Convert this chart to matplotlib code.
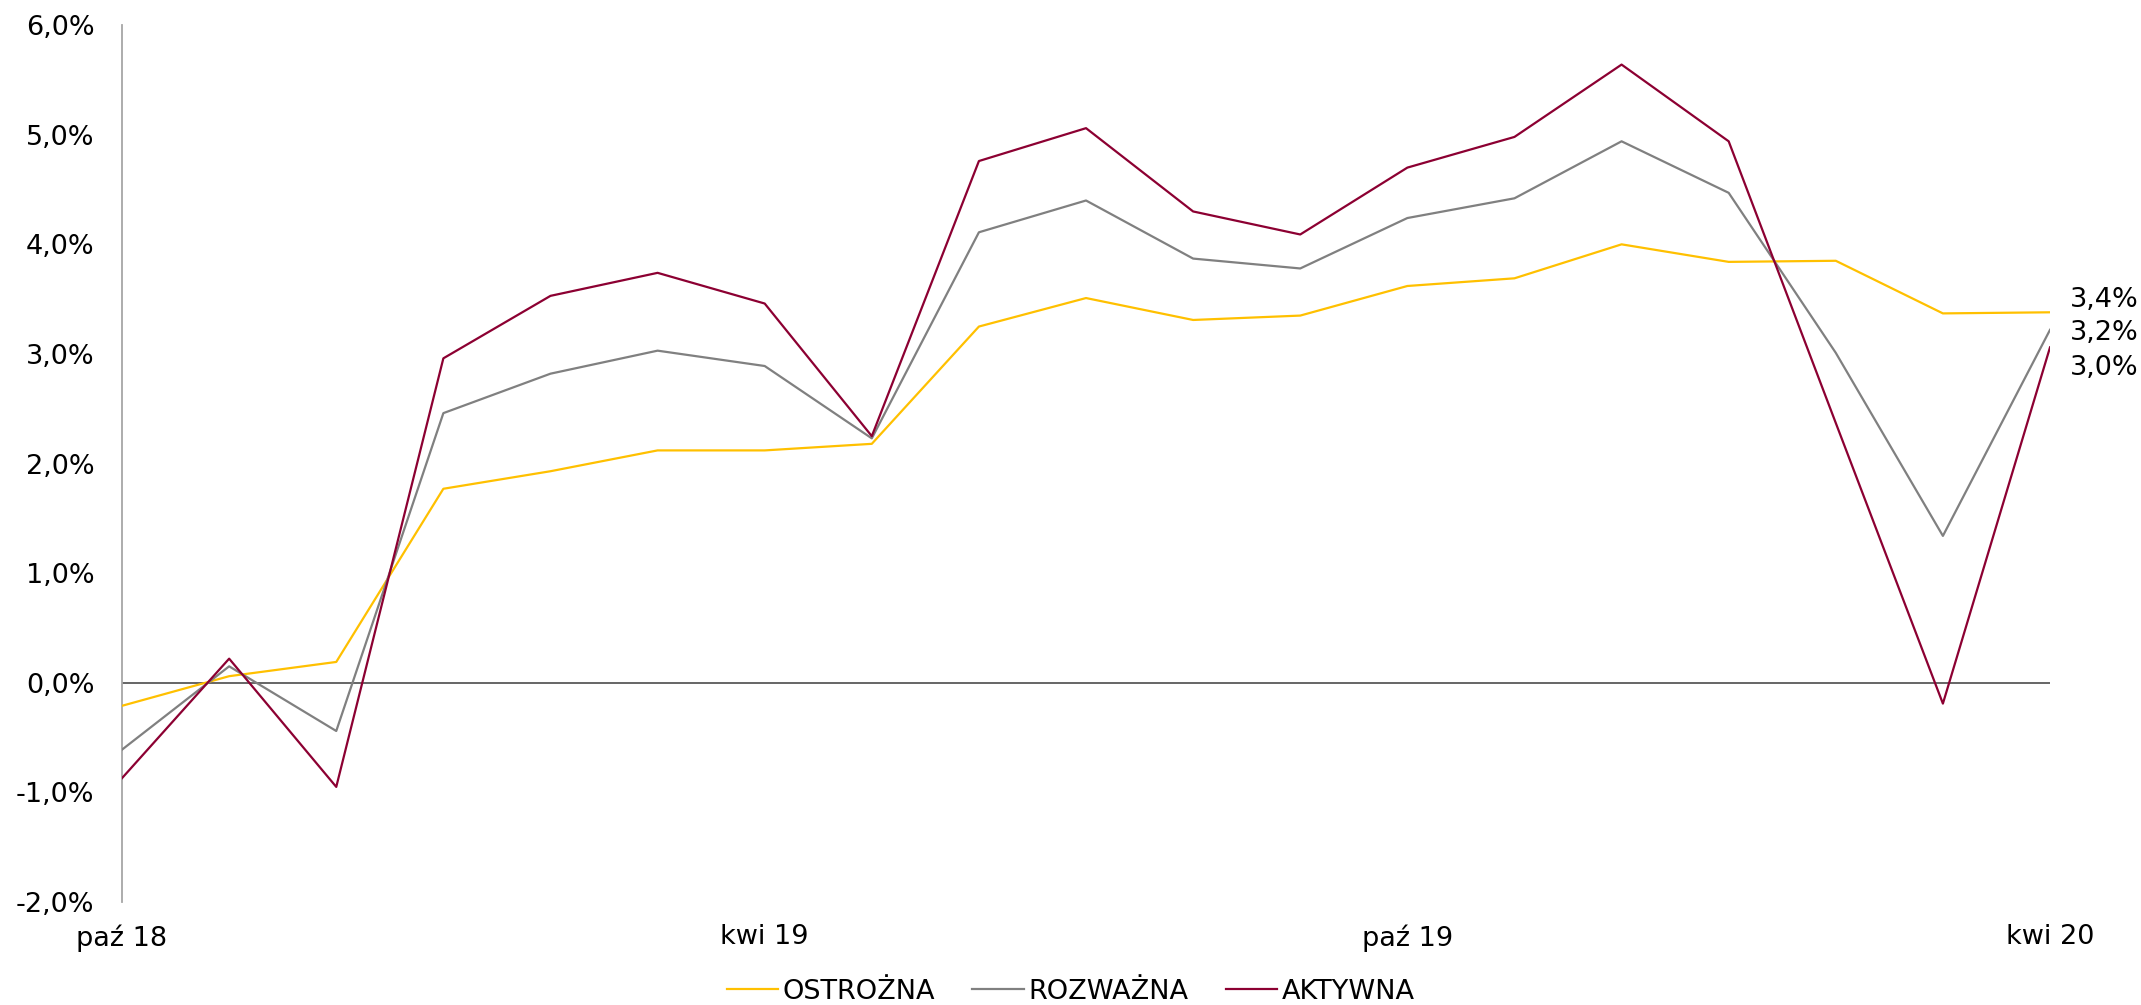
import matplotlib.pyplot as plt
from matplotlib.ticker import FixedLocator

# monthly data, paź 18 .. kwi 20 (values in %)
months = ['paź 18', 'lis 18', 'gru 18', 'sty 19', 'lut 19', 'mar 19', 'kwi 19',
          'maj 19', 'cze 19', 'lip 19', 'sie 19', 'wrz 19', 'paź 19', 'lis 19',
          'gru 19', 'sty 20', 'lut 20', 'mar 20', 'kwi 20']

ostrozna = [-0.21, 0.06, 0.19, 1.77, 1.93, 2.12, 2.12, 2.18, 3.25, 3.51,
            3.31, 3.35, 3.62, 3.69, 4.00, 3.84, 3.85, 3.37, 3.38]
rozwazna = [-0.61, 0.15, -0.44, 2.46, 2.82, 3.03, 2.89, 2.23, 4.11, 4.40,
            3.87, 3.78, 4.24, 4.42, 4.94, 4.47, 3.01, 1.34, 3.22]
aktywna = [-0.87, 0.22, -0.95, 2.96, 3.53, 3.74, 3.46, 2.25, 4.76, 5.06,
           4.30, 4.09, 4.70, 4.98, 5.64, 4.94, 2.37, -0.19, 3.06]

series_names = ['OSTROŻNA', 'ROZWAŻNA', 'AKTYWNA']
end_labels = ['3,4%', '3,2%', '3,0%']

y_ticks = [-2, -1, 0, 1, 2, 3, 4, 5, 6]
x_tick_labels = ['paź 18', 'kwi 19', 'paź 19', 'kwi 20']

colors = ['#FFC000', '#808080', '#8C0032']
fs = 19.5

fig = plt.figure(figsize=(21.41, 10.05), dpi=100)
ax = fig.add_axes([0.057, 0.1025, 0.9575 - 0.057, 0.975 - 0.1025])

x = list(range(len(months)))
for vals, name, c in zip([ostrozna, rozwazna, aktywna], series_names, colors):
    ax.plot(x, vals, color=c, linewidth=1.6, label=name, zorder=3)

ax.axhline(0, color='#595959', linewidth=1.3, zorder=2)

ax.set_xlim(0, len(months) - 1)
ax.set_ylim(-2, 6)

# y axis
ax.yaxis.set_major_locator(FixedLocator(y_ticks))
ax.set_yticklabels([f'{v:.1f}%'.replace('.', ',') for v in y_ticks])
ax.tick_params(axis='y', length=0, pad=20, labelsize=fs)

# x axis: a label every 6 months
tick_pos = [months.index(m) for m in x_tick_labels]
ax.set_xticks(tick_pos)
ax.set_xticklabels(x_tick_labels)
ax.tick_params(axis='x', length=0, pad=16, labelsize=fs)

for s in ['top', 'right', 'bottom']:
    ax.spines[s].set_visible(False)
ax.spines['left'].set_color('#A6A6A6')
ax.spines['left'].set_linewidth(1.3)

# end-of-line value labels
label_y = [3.49, 3.19, 2.87]
for txt, ly in zip(end_labels, label_y):
    ax.annotate(txt, xy=(x[-1], ly), xytext=(14, 0), textcoords='offset points',
                ha='left', va='center', fontsize=fs, annotation_clip=False)

fig.legend(loc='center', bbox_to_anchor=(0.5, 0.013), ncol=3, frameon=False,
           fontsize=fs, handlelength=1.9, handletextpad=0.15, columnspacing=1.4)

fig.savefig('out.png', dpi=100)
